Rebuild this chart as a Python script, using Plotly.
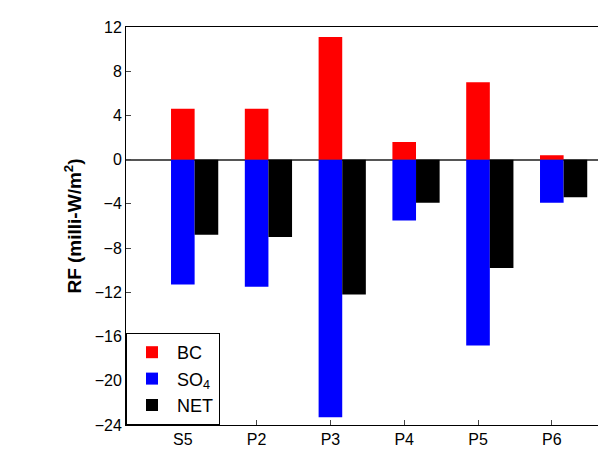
import plotly.graph_objects as go

cats = ["S5", "P2", "P3", "P4", "P5", "P6"]
bc = [4.6, 4.6, 11.1, 1.6, 7.0, 0.4]
so4 = [-11.3, -11.5, -23.3, -5.5, -16.8, -3.9]
net = [-6.8, -7.0, -12.2, -3.9, -9.8, -3.4]

xs = list(range(len(cats)))
w = 0.32

fig = go.Figure()
fig.add_trace(go.Bar(x=xs, y=bc, width=w, name="BC", marker=dict(color="#ff0000", line=dict(width=0))))
fig.add_trace(go.Bar(x=xs, y=so4, width=w, name="SO<sub>4</sub>", marker=dict(color="#0000ff", line=dict(width=0))))
fig.add_trace(go.Bar(x=[x + w for x in xs], y=net, width=w, name="NET", marker=dict(color="#000000", line=dict(width=0))))

fig.update_layout(
    barmode="overlay",
    width=606, height=453,
    margin=dict(l=118, r=11, t=14, b=36),
    paper_bgcolor="white", plot_bgcolor="white",
    font=dict(family="Liberation Sans, Arial", size=16, color="black"),
    showlegend=True,
    legend=dict(x=0.0, y=0.0, xanchor="left", yanchor="bottom", bordercolor="black", borderwidth=1,
                bgcolor="white", font=dict(size=18), traceorder="normal", itemwidth=40),
    xaxis=dict(tickvals=xs, ticktext=cats, range=[-0.77, 5.68], showline=True, linecolor="black",
               mirror=True, ticks="inside", ticklen=5, showgrid=False, zeroline=False),
    yaxis=dict(range=[-24, 12], tickvals=list(range(-24, 13, 4)), showline=True, linecolor="black",
               mirror=True, ticks="inside", ticklen=5, showgrid=False, zeroline=True,
               zerolinecolor="#555555", zerolinewidth=2,
               title=dict(text="<b>RF (milli-W/m<sup>2</sup>)</b>", standoff=8)),
)
fig.write_html("out.html")
